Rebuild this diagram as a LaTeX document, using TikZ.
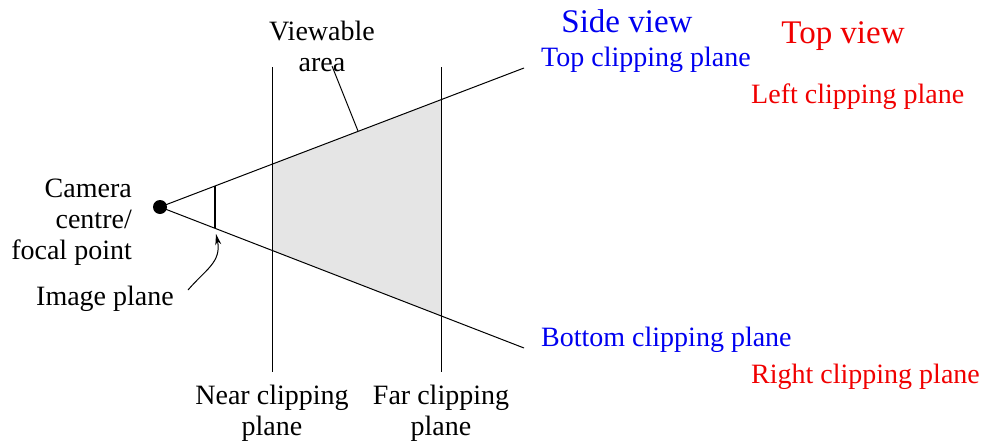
\documentclass[tikz,border=0pt]{standalone}
\usepackage{fontspec}
\setmainfont{Liberation Serif}
\usetikzlibrary{arrows.meta}
\definecolor{sideblue}{RGB}{0,0,240}
\definecolor{topred}{RGB}{240,0,0}
\begin{document}
\begin{tikzpicture}[x=1pt,y=-1pt,
  lbl/.style={inner sep=0pt,font=\fontsize{28}{31}\selectfont,align=center},
  ttl/.style={inner sep=0pt,font=\fontsize{33}{36}\selectfont},
  ln/.style={line width=1pt,black}]
\useasboundingbox (0,0) rectangle (982,442);
% frustum coordinates
\coordinate (ap) at (160,207);
\coordinate (topend) at (524,68);
\coordinate (botend) at (524,348);
\coordinate (nt) at (272,164.2);
\coordinate (nb) at (272,250.4);
\coordinate (ft) at (441,99.7);
\coordinate (fb) at (441,315.8);
% shaded viewable area
\fill[gray!20] (nt) -- (ft) -- (fb) -- (nb) -- cycle;
% planes
\coordinate (ntop) at (272,67);
\coordinate (nbot) at (272,372);
\coordinate (ftop) at (441,67);
\coordinate (fbot) at (441,372);
\draw[ln] (ntop) -- (nbot);
\draw[ln] (ftop) -- (fbot);
% view lines
\draw[ln] (ap) -- (topend);
\draw[ln] (ap) -- (botend);
% image plane
\coordinate (it) at (215,186);
\coordinate (ib) at (215,228);
\draw[line width=2.4pt] (it) -- (ib);
% camera
\node[circle,fill=black,minimum size=14pt,inner sep=0pt] (cam) at (ap) {};
% labels
\node[lbl,align=right,anchor=east] (camlbl) at (132,222) {Camera\\centre/\\focal point};
\node[lbl] (imglbl) at (105,299) {Image plane};
\coordinate (imgstart) at (188,290);
\coordinate (imgtip) at (216,234);
\draw[ln,-{Stealth[length=11pt,width=6pt]}] (imgstart) .. controls (205,270) and (222,262) .. (imgtip);
\node[lbl] (view) at (322,46) {Viewable\\area};
\coordinate (vs) at (332,66);
\coordinate (ve) at (358,131);
\draw[ln] (vs) -- (ve);
\node[lbl] (near) at (272,413) {Near clipping\\plane};
\node[lbl] (far) at (441,413) {Far clipping\\plane};
\node[ttl,text=sideblue] (side) at (627,21) {Side view};
\node[ttl,text=topred] (topv) at (843,36) {Top view};
\node[lbl,text=sideblue,anchor=west] (tcp) at (541,60) {Top clipping plane};
\node[lbl,text=topred,anchor=west] (lcp) at (751,97) {Left clipping plane};
\node[lbl,text=sideblue,anchor=west] (bcp) at (541,340) {Bottom clipping plane};
\node[lbl,text=topred,anchor=west] (rcp) at (751,377) {Right clipping plane};
\end{tikzpicture}
\end{document}
